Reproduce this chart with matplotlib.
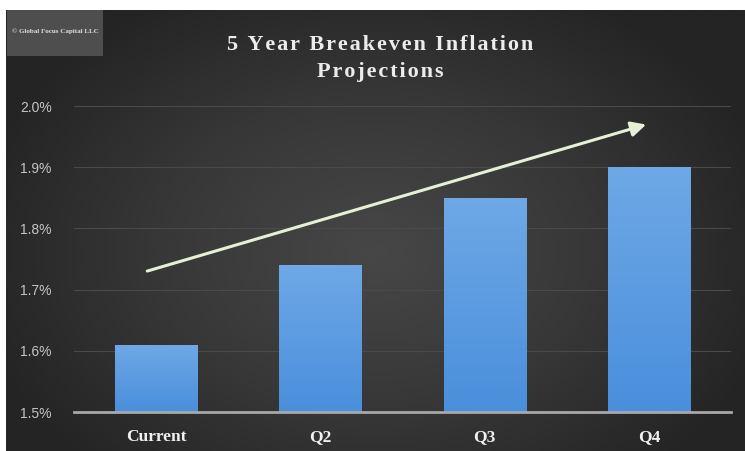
import numpy as np
import matplotlib.pyplot as plt
from matplotlib.colors import LinearSegmentedColormap

# данные
categories = ['Current', 'Q2', 'Q3', 'Q4']
values = [1.61, 1.74, 1.85, 1.90]
y_ticks = [1.5, 1.6, 1.7, 1.8, 1.9, 2.0]
y_labels = ['1.5%', '1.6%', '1.7%', '1.8%', '1.9%', '2.0%']

W, H = 745, 451
fig = plt.figure(figsize=(W / 100, H / 100), dpi=100, facecolor='white')

# тёмный фон с радиальным градиентом
bg = fig.add_axes([6 / W, 0, (W - 6) / W, (H - 10) / H])
yy, xx = np.mgrid[0:1:200j, 0:1:300j]
r = np.sqrt(((xx - 0.5) / 0.75) ** 2 + ((yy - 0.55) / 0.9) ** 2)
bg_cmap = LinearSegmentedColormap.from_list('bg', ['#474747', '#383838', '#242424'])
bg.imshow(r, cmap=bg_cmap, aspect='auto', extent=[0, 1, 0, 1], vmin=0, vmax=0.75)
bg.set_xlim(0, 1)
bg.set_ylim(0, 1)
bg.axis('off')

# плашка с копирайтом
logo = fig.add_axes([7 / W, (H - 56) / H, 96 / W, 46 / H])
logo.set_facecolor('#4e4e4e')
logo.set_xticks([])
logo.set_yticks([])
for s in logo.spines.values():
    s.set_visible(False)
logo.text(0.5, 0.55, '© Global Focus Capital LLC', color='#e0e0e0', fontsize=5,
          fontweight='bold', ha='center', va='center', family='Liberation Serif')

# заголовок (с разрядкой букв)
def spaced(s):
    return '\u200a'.join(s)

fig.text(380 / W, 1 - 45 / H, spaced('5 Year Breakeven Inflation'), color='#ececec',
         fontsize=16, fontweight='bold', ha='center', va='center',
         family=['Liberation Serif', 'DejaVu Serif'])
fig.text(380 / W, 1 - 72 / H, spaced('Projections'), color='#ececec',
         fontsize=16, fontweight='bold', ha='center', va='center',
         family=['Liberation Serif', 'DejaVu Serif'])

# основной график
ax = fig.add_axes([74 / W, (H - 412) / H, 657 / W, 306 / H])
ax.patch.set_alpha(0)
x = np.arange(len(categories))
bars = ax.bar(x, [v - 1.5 for v in values], bottom=1.5, width=0.5,
              color='#5a9be0', zorder=3)

bar_cmap = LinearSegmentedColormap.from_list('bar', ['#4a8fdc', '#6ea8e6'])
grad = np.linspace(0, 1, 100).reshape(-1, 1)
for b in bars:
    x0, y0 = b.get_x(), b.get_y()
    im = ax.imshow(grad, cmap=bar_cmap, origin='lower', aspect='auto',
                   extent=[x0, x0 + b.get_width(), y0, y0 + b.get_height()], zorder=4)
    im.set_clip_path(b)

ax.set_xlim(-0.5, len(categories) - 0.5)
ax.set_ylim(1.5, 2.0)
ax.set_yticks(y_ticks)
ax.set_yticklabels(y_labels, color='#c4c4c4', fontsize=10, family='Liberation Sans')
ax.set_xticks(x)
ax.set_xticklabels(categories, color='#f0f0f0', fontsize=12.5, fontweight='bold',
                   family='Liberation Serif')
ax.tick_params(axis='y', length=0, pad=16)
ax.tick_params(axis='x', length=0, pad=12)
ax.grid(axis='y', color='#4a4a4a', lw=0.8, zorder=1)
for s in ['top', 'right', 'left']:
    ax.spines[s].set_visible(False)
ax.spines['bottom'].set_color('#a8a8a8')
ax.spines['bottom'].set_linewidth(2)
ax.spines['bottom'].set_zorder(5)

# стрелка тренда
ax.annotate('', xy=(3.0, 1.971), xytext=(-0.07, 1.729),
            arrowprops=dict(arrowstyle='-|>,head_length=0.9,head_width=0.45',
                            color='#e4f0d8', lw=2.2), zorder=6)

plt.savefig('out.png', dpi=100, facecolor=fig.get_facecolor())
